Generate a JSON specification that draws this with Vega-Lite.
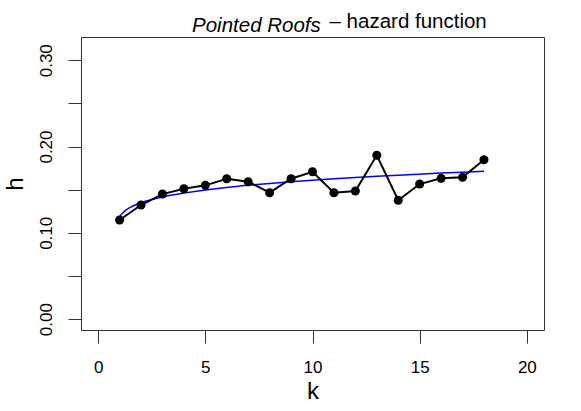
{
  "$schema": "https://vega.github.io/schema/vega-lite/v6.json",
  "width": 463,
  "height": 293,
  "autosize": {"type": "none"},
  "padding": {"left": 81, "top": 37, "right": 37, "bottom": 81},
  "background": "white",
  "config": {
    "font": "Liberation Sans",
    "view": {"stroke": "#333", "strokeWidth": 1},
    "axis": {"grid": false, "domain": false, "tickColor": "#333", "tickWidth": 1, "labelColor": "#000", "titleColor": "#000", "labelFont": "Liberation Sans", "titleFont": "Liberation Sans", "titleFontWeight": "normal"}
  },
  "title": {
    "text": "Pointed Roofs",
    "fontStyle": "italic",
    "fontWeight": "normal",
    "fontSize": 20.5,
    "font": "Liberation Sans",
    "color": "#000",
    "anchor": "start",
    "frame": "group",
    "dx": 111,
    "baseline": "bottom",
    "offset": -45
  },
  "datasets": {
    "pts": [
      {"k": 1, "h": 0.1149},
      {"k": 2, "h": 0.1322},
      {"k": 3, "h": 0.1449},
      {"k": 4, "h": 0.1511},
      {"k": 5, "h": 0.1550},
      {"k": 6, "h": 0.1627},
      {"k": 7, "h": 0.1592},
      {"k": 8, "h": 0.1465},
      {"k": 9, "h": 0.1627},
      {"k": 10, "h": 0.1707},
      {"k": 11, "h": 0.1465},
      {"k": 12, "h": 0.1484},
      {"k": 13, "h": 0.1898},
      {"k": 14, "h": 0.1377},
      {"k": 15, "h": 0.1565},
      {"k": 16, "h": 0.1631},
      {"k": 17, "h": 0.1643},
      {"k": 18, "h": 0.1847}
    ],
    "curve": [
      {"k": 1.0, "h": 0.119},
      {"k": 1.25, "h": 0.1255},
      {"k": 1.5, "h": 0.1295},
      {"k": 1.75, "h": 0.1325},
      {"k": 2.0, "h": 0.135},
      {"k": 2.5, "h": 0.1385},
      {"k": 3.0, "h": 0.1415},
      {"k": 3.5, "h": 0.144},
      {"k": 4.0, "h": 0.146},
      {"k": 4.5, "h": 0.1478},
      {"k": 5.0, "h": 0.1495},
      {"k": 6.0, "h": 0.1525},
      {"k": 7.0, "h": 0.155},
      {"k": 8.0, "h": 0.1572},
      {"k": 9.0, "h": 0.1592},
      {"k": 10.0, "h": 0.161},
      {"k": 11.0, "h": 0.1626},
      {"k": 12.0, "h": 0.1641},
      {"k": 13.0, "h": 0.1655},
      {"k": 14.0, "h": 0.1668},
      {"k": 15.0, "h": 0.168},
      {"k": 16.0, "h": 0.1692},
      {"k": 17.0, "h": 0.1703},
      {"k": 18.0, "h": 0.1714}
    ]
  },
  "resolve": {"axis": {"x": "independent", "y": "independent"}},
  "layer": [
    {
      "data": {"name": "curve"},
      "mark": {"type": "line", "color": "#0000FF", "strokeWidth": 1.5, "interpolate": "monotone"},
      "encoding": {
        "x": {"field": "k", "type": "quantitative", "scale": {"domain": [-0.8, 20.8], "nice": false, "zero": false},
          "axis": {"orient": "top", "labels": false, "ticks": false, "domain": false, "title": "– hazard function", "titleFontSize": 20.5, "titleAnchor": "start", "titleAlign": "left", "titleBaseline": "alphabetic", "titleX": 248, "titleY": -10}},
        "y": {"field": "h", "type": "quantitative", "scale": {"domain": [-0.0126, 0.3269], "nice": false, "zero": false}, "axis": null}
      }
    },
    {
      "data": {"name": "pts"},
      "mark": {"type": "line", "color": "#000", "strokeWidth": 2},
      "encoding": {
        "x": {"field": "k", "type": "quantitative", "axis": null},
        "y": {"field": "h", "type": "quantitative", "axis": null}
      }
    },
    {
      "data": {"name": "pts"},
      "mark": {"type": "circle", "color": "#000", "opacity": 1, "size": 82},
      "encoding": {
        "x": {"field": "k", "type": "quantitative",
          "axis": {"values": [0, 5, 10, 15, 20], "title": "k", "titleFontSize": 24, "labelFontSize": 17, "tickSize": 13, "labelPadding": 16, "titlePadding": 4, "labelFlush": false}},
        "y": {"field": "h", "type": "quantitative",
          "axis": {"values": [0, 0.05, 0.1, 0.15, 0.2, 0.25, 0.3], "labelExpr": "indexof(['0.00','0.10','0.20','0.30'], format(datum.value, '.2f')) >= 0 ? format(datum.value, '.2f') : ''", "labelAngle": -90, "labelAlign": "center", "labelBaseline": "bottom", "title": "h", "titleFontSize": 24, "labelFontSize": 17, "tickSize": 13, "labelPadding": 13, "titlePadding": 10, "labelFlush": false}}
      }
    }
  ]
}
